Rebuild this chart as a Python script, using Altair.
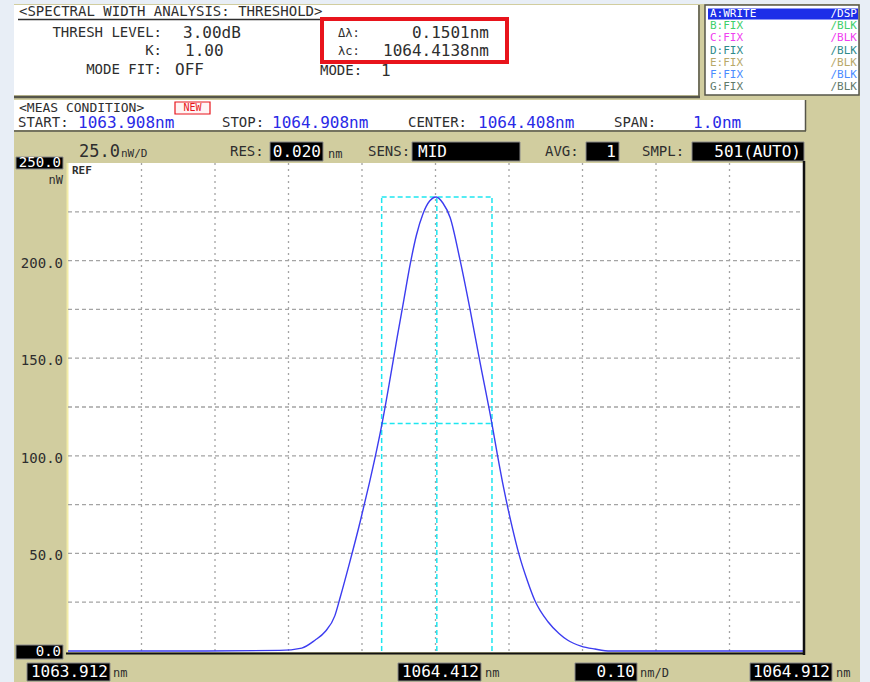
import altair as alt
import pandas as pd

# ---- measurement values -------------------------------------------------
start_nm, stop_nm = 1063.912, 1064.912
res_nm = 0.020
thresh_db = 3.00
delta_lambda = 0.1501          # spectral width (nm)
lambda_c = 1064.4138           # centre wavelength (nm)
peak_nw = 232.6                # peak power (nW)

# trace A (wavelength nm, power nW)
wavelength = [1063.912, 1064.000, 1064.100, 1064.200, 1064.230, 1064.248,
              1064.262, 1064.275, 1064.282, 1064.295, 1064.310, 1064.322,
              1064.332, 1064.339, 1064.350, 1064.360, 1064.369, 1064.377,
              1064.386, 1064.395, 1064.404, 1064.413, 1064.422, 1064.432,
              1064.445, 1064.459, 1064.472, 1064.489, 1064.496, 1064.505,
              1064.516, 1064.526, 1064.537, 1064.547, 1064.565, 1064.580,
              1064.592, 1064.610, 1064.629, 1064.650, 1064.700, 1064.800,
              1064.912]
power = [0.0, 0.0, 0.0, 0.3, 1.5, 5.5,
         10.0, 18.0, 27.0, 45.0, 67.0, 86.0,
         103.0, 116.0, 139.0, 161.0, 180.0, 197.0,
         213.0, 224.0, 230.5, 232.6, 229.5, 222.0,
         201.0, 175.0, 149.0, 116.0, 101.0, 83.0,
         64.0, 49.0, 36.0, 26.0, 15.0, 9.0,
         5.5, 2.5, 1.0, 0.0, 0.0, 0.0,
         0.0]

grid_nm = [1064.012, 1064.112, 1064.212, 1064.312, 1064.412,
           1064.512, 1064.612, 1064.712, 1064.812]
grid_nw = [25, 50, 75, 100, 125, 150, 175, 200, 225]
ylabel_vals = [200, 150, 100, 50]

traces = [("A:WRITE", "/DSP", "#ffffff"), ("B:FIX", "/BLK", "#3ecf6a"),
          ("C:FIX", "/BLK", "#f040f0"), ("D:FIX", "/BLK", "#2e8a8a"),
          ("E:FIX", "/BLK", "#b8a868"), ("F:FIX", "/BLK", "#4a8cff"),
          ("G:FIX", "/BLK", "#5f7a6a")]

# ---- styling --------------------------------------------------------------
MONO = "DejaVu Sans Mono"
PAGE = "#e8eef6"
KHAKI = "#d1cd9f"
DARK = "#2e2e2e"
BLUE = "#2a2ae6"
TRACE = "#3c3cf0"
CYAN = "#1ee6f0"
GRID = "#a4a4a4"
RED = "#e8141c"
BORDER = "#55554a"

W, H = 735, 488
OX, OY = 68, 163          # plot origin inside the 870x682 canvas
ONE = pd.DataFrame({"k": [0]})


def box(x1, y1, x2, y2, fill, stroke=None, sw=1.0, fill_opacity=1.0):
    kw = dict(fill=fill, fillOpacity=fill_opacity)
    if stroke:
        kw.update(stroke=stroke, strokeWidth=sw)
    else:
        kw.update(strokeWidth=0)
    return alt.Chart(ONE).mark_rect(**kw).encode(
        x=alt.value(x1 - OX), x2=alt.value(x2 - OX),
        y=alt.value(y1 - OY), y2=alt.value(y2 - OY))


def label(x, y, s, size=14, color=DARK, align="left", weight="normal"):
    return alt.Chart(ONE).mark_text(
        text=s, align=align, baseline="middle", fontSize=size, font=MONO,
        color=color, fontWeight=weight).encode(
        x=alt.value(x - OX), y=alt.value(y - OY))


def hline(x1, x2, y, color, w=1.0):
    return alt.Chart(ONE).mark_rule(color=color, strokeWidth=w).encode(
        x=alt.value(x1 - OX), x2=alt.value(x2 - OX), y=alt.value(y - OY))


def vline(x, y1, y2, color, w=1.0):
    return alt.Chart(ONE).mark_rule(color=color, strokeWidth=w).encode(
        x=alt.value(x - OX), y=alt.value(y1 - OY), y2=alt.value(y2 - OY))


layers = []

# screen background and panels
layers += [
    box(14, 4, 860, 682, KHAKI),
    box(14, 5, 698, 95, "#ffffff"),
    hline(14, 700, 97, BORDER, 2.5),
    vline(699, 5, 97, BORDER, 1.5),
    box(705, 5, 859, 95, "#ffffff", BORDER, 1.5),
    box(14, 100, 805, 130, "#ffffff"),
    hline(14, 806, 131, BORDER, 1.5),
    vline(805.5, 100, 131, BORDER, 1.5),
]

# analysis header
layers += [
    label(19, 12, "<SPECTRAL WIDTH ANALYSIS: THRESHOLD>", 14),
    hline(18, 365, 19.5, DARK, 1.3),
    label(162, 33, "THRESH LEVEL:", 14, align="right"),
    label(183, 33, f"{thresh_db:.2f}dB", 16),
    label(162, 51, "K:", 14, align="right"),
    label(185, 51, "1.00", 16),
    label(162, 70, "MODE FIT:", 14, align="right"),
    label(175, 70, "OFF", 16),
    label(338, 33, "Δλ:", 12),
    label(489, 33, f"{delta_lambda:.4f}nm", 16, align="right"),
    label(338, 51, "λc:", 12),
    label(489, 51, f"{lambda_c:.4f}nm", 16, align="right"),
    label(320, 71, "MODE:", 14),
    label(381, 71, "1", 16),
    box(322, 19, 507, 62, "#ffffff", RED, 4, fill_opacity=0),
]

# trace list
layers.append(box(708, 8.5, 858, 19.5, "#1c2ee8"))
for i, (name, state, col) in enumerate(traces):
    yy = 14 + 12.2 * i
    layers.append(label(710, yy, name, 11, col))
    layers.append(label(857, yy, state, 11, col, align="right"))

# measurement conditions
center_nm = (start_nm + stop_nm) / 2 - 0.004
layers += [
    label(19, 108, "<MEAS CONDITION>", 13),
    box(175, 102, 210, 114, "#fff4f4", RED, 1.2),
    label(192.5, 108, "NEW", 10, RED, align="center"),
    label(18, 123, "START:", 14),
    label(78, 123, f"{start_nm - 0.004:.3f}nm", 16, BLUE),
    label(222, 123, "STOP:", 14),
    label(272, 123, f"{stop_nm - 0.004:.3f}nm", 16, BLUE),
    label(408, 123, "CENTER:", 14),
    label(478, 123, f"{center_nm:.3f}nm", 16, BLUE),
    label(614, 123, "SPAN:", 14),
    label(693, 123, f"{stop_nm - start_nm:.1f}nm", 16, BLUE),
]

# settings row
layers += [
    label(79, 152, "25.0", 17),
    label(121, 154, "nW/D", 11),
    label(230, 152, "RES:", 14),
    box(270, 142, 323, 161, "#000000", "#8a8a8a", 1),
    label(321, 152, f"{res_nm:.3f}", 16, "#ffffff", align="right"),
    label(328, 154, "nm", 12),
    label(368, 152, "SENS:", 14),
    box(412, 142, 520, 161, "#000000", "#8a8a8a", 1),
    label(418, 152, "MID", 16, "#ffffff"),
    label(545, 152, "AVG:", 14),
    box(586, 142, 619, 161, "#000000", "#8a8a8a", 1),
    label(616, 152, "1", 16, "#ffffff", align="right"),
    label(642, 152, "SMPL:", 14),
    box(692, 142, 804, 161, "#000000", "#8a8a8a", 1),
    label(801, 152, "501(AUTO)", 16, "#ffffff", align="right"),
]

# plot area
layers.append(box(68, 163, 803, 652, "#ffffff"))
layers.append(vline(67.5, 163, 652, "#f2eca8", 2))

xs = alt.Scale(domain=[start_nm, stop_nm], nice=False, zero=False)
ys = alt.Scale(domain=[0, 250], nice=False, zero=True)

vgrid = alt.Chart(pd.DataFrame({"g": grid_nm})).mark_rule(
    color=GRID, strokeDash=[2, 4], strokeWidth=1.3).encode(
    x=alt.X("g:Q", scale=xs, axis=None), y=alt.value(0), y2=alt.value(H))
hgrid = alt.Chart(pd.DataFrame({"p": grid_nw})).mark_rule(
    color=GRID, strokeDash=[4, 3], strokeWidth=1.3).encode(
    y=alt.Y("p:Q", scale=ys, axis=None), x=alt.value(0), x2=alt.value(W))
layers += [vgrid, hgrid]

# threshold box: centre, edges, peak and -3 dB level
left_nm = lambda_c - delta_lambda / 2
right_nm = lambda_c + delta_lambda / 2
half_nw = peak_nw / 10 ** (thresh_db / 10)
segs = pd.DataFrame({
    "x1": [left_nm, lambda_c, right_nm, left_nm, left_nm],
    "x2": [left_nm, lambda_c, right_nm, right_nm, right_nm],
    "y1": [0, 0, 0, peak_nw, half_nw],
    "y2": [peak_nw, peak_nw, peak_nw, peak_nw, half_nw],
})
cyan = alt.Chart(segs).mark_rule(color=CYAN, strokeDash=[5, 3], strokeWidth=1.5).encode(
    x=alt.X("x1:Q", scale=xs, axis=None), x2="x2:Q",
    y=alt.Y("y1:Q", scale=ys, axis=None), y2="y2:Q")
layers.append(cyan)

spec = pd.DataFrame({"wl": wavelength, "pw": power})
line = alt.Chart(spec).mark_line(color=TRACE, strokeWidth=1.4, interpolate="monotone").encode(
    x=alt.X("wl:Q", scale=xs, axis=None), y=alt.Y("pw:Q", scale=ys, axis=None))
layers.append(line)

# frame
layers += [
    vline(804, 161, 655, "#111111", 2.5),
    hline(66, 805, 653.5, "#111111", 2),
    label(72, 171, "REF", 11, weight="bold"),
]

# y labels
ylab = alt.Chart(pd.DataFrame({"p": ylabel_vals, "t": [f"{v:.1f}" for v in ylabel_vals]})).mark_text(
    align="right", baseline="middle", fontSize=14, font=MONO, color=DARK, dy=3).encode(
    y=alt.Y("p:Q", scale=ys, axis=None), x=alt.value(63 - OX), text="t:N")
layers += [
    ylab,
    box(16, 157, 63, 169, "#000000", "#8a8a8a", 1),
    label(61, 163, "250.0", 14, "#ffffff", align="right"),
    label(63, 180, "nW", 12, align="right"),
    box(16, 645, 63, 659, "#000000", "#8a8a8a", 1),
    label(61, 652, "0.0", 14, "#ffffff", align="right"),
]

# x labels
div_nm = (stop_nm - start_nm) / 10
layers += [
    box(27, 663, 110, 681, "#000000", "#8a8a8a", 1),
    label(108, 672, f"{start_nm:.3f}", 16, "#ffffff", align="right"),
    label(113, 673, "nm", 12),
    box(398, 663, 481, 681, "#000000", "#8a8a8a", 1),
    label(479, 672, f"{(start_nm + stop_nm) / 2:.3f}", 16, "#ffffff", align="right"),
    label(485, 673, "nm", 12),
    box(575, 663, 637, 681, "#000000", "#8a8a8a", 1),
    label(635, 672, f"{div_nm:.2f}", 16, "#ffffff", align="right"),
    label(640, 673, "nm/D", 12),
    box(750, 663, 832, 681, "#000000", "#8a8a8a", 1),
    label(830, 672, f"{stop_nm:.3f}", 16, "#ffffff", align="right"),
    label(836, 673, "nm", 12),
]

chart = alt.layer(*layers).properties(
    width=W, height=H,
    padding={"left": OX, "top": OY, "right": 870 - OX - W, "bottom": 682 - OY - H},
    autosize="none", background=PAGE,
).configure_view(stroke=None)

chart.save("out.html", embed_options={"renderer": "svg", "actions": False})
